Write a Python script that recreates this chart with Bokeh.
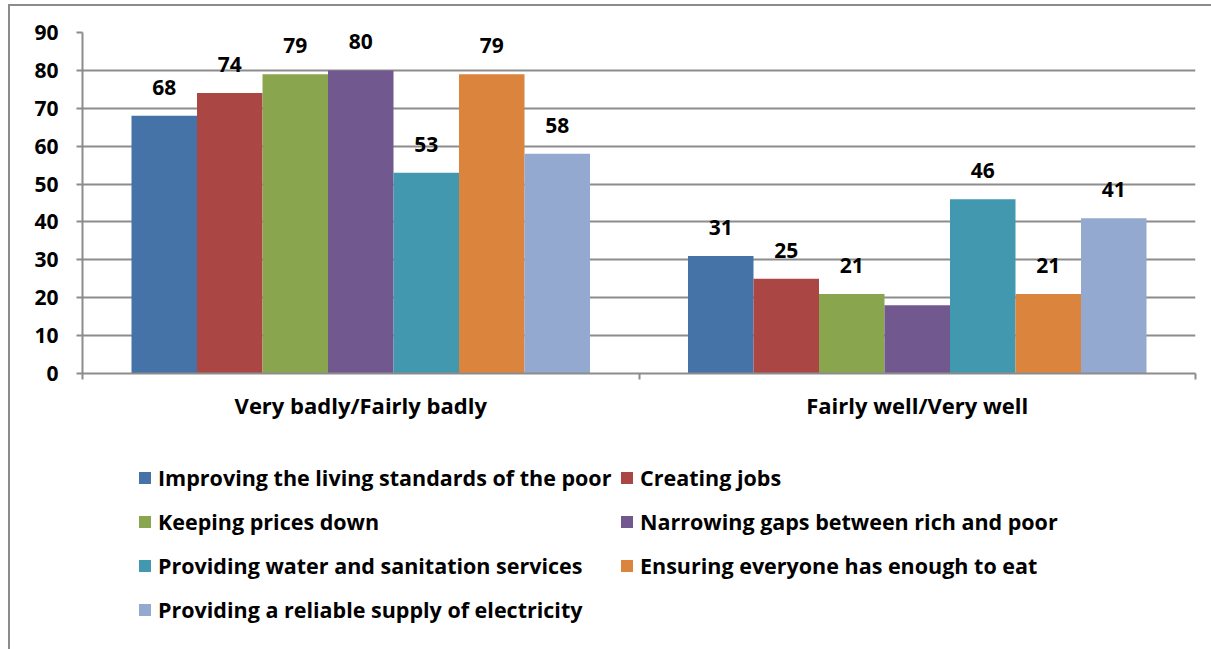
from bokeh.plotting import figure
from bokeh.layouts import column
from bokeh.models import (ColumnDataSource, Range1d, FixedTicker, Legend,
                          LegendItem)
from bokeh.transform import dodge
from bokeh.core.properties import value
from bokeh.embed import file_html
from bokeh.resources import INLINE

# Categories on the x axis
groups = ["Very badly/Fairly badly", "Fairly well/Very well"]

# Series (one bar per series in each category)
series = [
    "Improving the living standards of the poor",
    "Creating jobs",
    "Keeping prices down",
    "Narrowing gaps between rich and poor",
    "Providing water and sanitation services",
    "Ensuring everyone has enough to eat",
    "Providing a reliable supply of electricity",
]
colors = ["#4572A7", "#AA4643", "#89A54E", "#71588F",
          "#4198AF", "#DB843D", "#93A9CF"]

# Percentages per category, in series order
badly = [68, 74, 79, 80, 53, 79, 58]
well = [31, 25, 21, 18, 46, 21, 41]

# Value labels shown above the bars (one bar carries no label)
labels_badly = ["68", "74", "79", "80", "53", "79", "58"]
labels_well = ["31", "25", "21", "", "46", "21", "41"]

y_ticks = [0, 10, 20, 30, 40, 50, 60, 70, 80, 90]

FONT = "Open Sans"
GRAY = "#8c8c8c"
BAR_W = 0.1177
centers = [0.5, 1.5]

sources = [
    ColumnDataSource(dict(x=centers, top=[badly[i], well[i]],
                          label=[labels_badly[i], labels_well[i]]))
    for i in range(len(series))
]

# ---- bar chart ----
p = figure(width=1211, height=430,
           x_range=Range1d(0, 2), y_range=Range1d(0, 90),
           min_border_left=82, min_border_right=16,
           min_border_top=32, min_border_bottom=57,
           output_backend="svg", toolbar_location=None)
p.outline_line_color = None
p.background_fill_color = "white"
p.border_fill_alpha = 0

for i, src in enumerate(sources):
    off = (i - 3) * BAR_W
    p.vbar(x=dodge("x", off), top="top", bottom=0, width=BAR_W,
           source=src, fill_color=colors[i], line_color=None)
    p.text(x=dodge("x", off), y="top", text="label", source=src,
           text_align="center", text_baseline="bottom", y_offset=-21,
           text_font=value(FONT), text_font_style="bold",
           text_font_size="21px", text_color="black")

# Y axis
p.yaxis.ticker = FixedTicker(ticks=y_ticks)
p.yaxis.major_label_text_font = FONT
p.yaxis.major_label_text_font_style = "bold"
p.yaxis.major_label_text_font_size = "21px"
p.yaxis.major_label_text_color = "black"
p.yaxis.major_label_standoff = 18
p.yaxis.axis_line_color = GRAY
p.yaxis.axis_line_width = 2
p.yaxis.major_tick_line_color = GRAY
p.yaxis.major_tick_line_width = 2
p.yaxis.major_tick_out = 6
p.yaxis.major_tick_in = 0
p.yaxis.minor_tick_line_color = None

# X axis: category names at centres, tick marks on the boundaries
p.xaxis.ticker = FixedTicker(ticks=centers, minor_ticks=[0, 1, 2])
p.xaxis.major_label_overrides = {0.5: groups[0], 1.5: groups[1]}
p.xaxis.major_label_text_font = FONT
p.xaxis.major_label_text_font_style = "bold"
p.xaxis.major_label_text_font_size = "22px"
p.xaxis.major_label_text_color = "black"
p.xaxis.major_label_standoff = 10
p.xaxis.major_tick_line_color = None
p.xaxis.minor_tick_line_color = GRAY
p.xaxis.minor_tick_line_width = 2
p.xaxis.minor_tick_out = 6
p.xaxis.minor_tick_in = 0
p.xaxis.axis_line_color = GRAY
p.xaxis.axis_line_width = 2

p.xgrid.visible = False
p.ygrid.grid_line_color = GRAY
p.ygrid.grid_line_width = 2

# ---- legend panel ----
lg = figure(width=1211, height=219, x_range=Range1d(0, 1),
            y_range=Range1d(0, 1), x_axis_type=None, y_axis_type=None,
            min_border=0, output_backend="svg", toolbar_location=None)
lg.outline_line_color = None
lg.background_fill_alpha = 0
lg.border_fill_alpha = 0
lg.grid.visible = False

items = []
for i, name in enumerate(series):
    r = lg.vbar(x=dodge("x", (i - 3) * BAR_W), top="top", width=BAR_W,
                source=sources[i], fill_color=colors[i], line_color=None,
                visible=False)
    items.append(LegendItem(label=name, renderers=[r]))

legend = Legend(items=items, location=(55, 18), orientation="horizontal",
                ncols=2, glyph_width=15, glyph_height=15, label_standoff=6,
                label_width=461, label_height=44, spacing=0, padding=0,
                margin=0, border_line_color=None, background_fill_alpha=0,
                inactive_fill_alpha=0,
                label_text_font=FONT, label_text_font_style="bold",
                label_text_font_size="21.5px", label_text_color="black")
lg.add_layout(legend, "center")

# Outer chart border, drawn behind the transparent figure borders
layout = column(p, lg, spacing=0)
layout.styles = {
    "background-color": "white",
    "background-image": "linear-gradient(#8c8c8c, #8c8c8c), "
                        "linear-gradient(#8c8c8c, #8c8c8c)",
    "background-size": "2px 100%, 100% 2px",
    "background-position": "8px 4px, 8px 4px",
    "background-repeat": "no-repeat",
}

open("out.html", "w").write(file_html(layout, INLINE))
